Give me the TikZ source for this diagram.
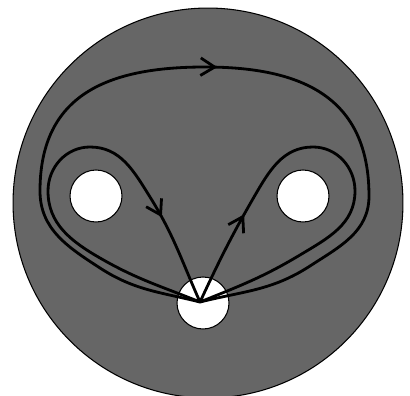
\documentclass[tikz,border=0pt]{standalone}
\usetikzlibrary{arrows.meta, decorations.markings}

\tikzset{midarrow/.style={postaction={decorate},
    decoration={markings, mark=at position #1 with {\arrow{>}}}}}

\begin{document}
\begin{tikzpicture}[x=0.02cm, y=0.02cm, >={Straight Barb[length=8pt,width=10pt]}]
    % Styles
    \tikzstyle{surface} = [circle, draw, fill=black!60, line width=0.6pt,
    minimum size=7.8cm, inner sep=0pt]
    \tikzstyle{hole} = [circle, draw, fill=white, line width=0.6pt,
    minimum size=1.04cm, inner sep=0pt]
    \tikzstyle{pathline} = [line width=1.6pt, line join=round]

    \useasboundingbox (0,0) rectangle (410,396);

    % Nodes
    \node [surface] (disk) at (208,193) {};
    \node [hole] (lefthole) at (96,200) {};
    \node [hole] (righthole) at (303,200) {};
    \node [hole] (basehole) at (203,93) {};
    \coordinate (base) at (200,94);

    % Loops
    \draw [pathline, midarrow=0.8] (base) to[out=158, in=-30] (100,138)
        to[out=150, in=-90] (48,205)
        to[out=90, in=180] (90,249) to[out=0, in=122] (150,199)
        to[out=-58, in=114] (base);
    \draw [pathline, midarrow=0.21] (base) to[out=65, in=-120] (254,199)
        to[out=60, in=180] (313,249) to[out=0, in=90] (355,205)
        to[out=-90, in=31] (300,141) to[out=-149, in=22] (base);
    \draw [pathline, midarrow=0.51] (base) to[out=166, in=-33] (100,128)
        to[out=147, in=-90] (40,205)
        to[out=90, in=180, looseness=1.2] (205,329)
        to[out=0, in=90, looseness=1.2] (369,200)
        to[out=-90, in=33] (310,130) to[out=-147, in=14] (base);
\end{tikzpicture}
\end{document}
